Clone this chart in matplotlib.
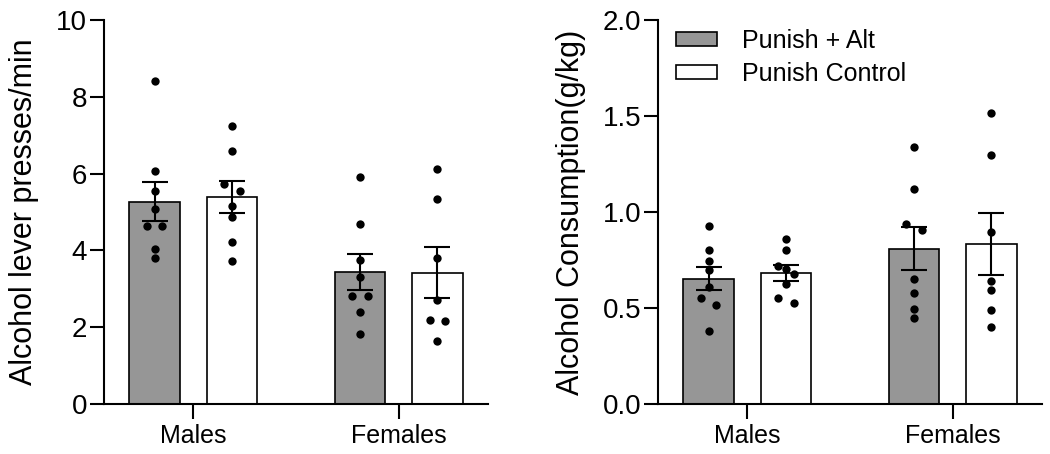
import numpy as np
import matplotlib
matplotlib.use("Agg")
import matplotlib.pyplot as plt

plt.rcParams['font.family'] = ['Liberation Sans', 'DejaVu Sans']

groups = ['Males', 'Females']
series = ['Punish + Alt', 'Punish Control']

# lever presses / min, individual animals
presses_alt_m = [8.40, 6.06, 5.55, 5.08, 4.63, 4.63, 4.04, 3.79]
presses_ctl_m = [7.24, 6.60, 5.73, 5.55, 5.15, 4.87, 4.21, 3.73]
presses_alt_f = [5.90, 4.68, 3.74, 3.32, 2.80, 2.80, 2.39, 1.82]
presses_ctl_f = [6.13, 5.33, 3.79, 2.71, 2.20, 2.16, 1.65]

# consumption g/kg, individual animals
cons_alt_m = [0.929, 0.800, 0.743, 0.698, 0.610, 0.551, 0.515, 0.382]
cons_ctl_m = [0.860, 0.800, 0.717, 0.703, 0.677, 0.627, 0.553, 0.528]
cons_alt_f = [1.338, 1.119, 0.936, 0.905, 0.653, 0.577, 0.494, 0.446]
cons_ctl_f = [1.517, 1.299, 0.895, 0.642, 0.594, 0.489, 0.401]

bar_colors = ['#969696', 'white']
bar_w = 0.244
bar_off = 0.188
dot_dx = 0.0375


def swarm(vals, thresh):
    # put points that sit close together side by side
    vals = sorted(vals, reverse=True)
    rows = []
    for v in vals:
        if rows and rows[-1][0] - v < thresh:
            rows[-1].append(v)
        else:
            rows.append([v])
    xs, ys = [], []
    for r in rows:
        offs = [0.0] if len(r) == 1 else np.linspace(-dot_dx, dot_dx, len(r))
        xs += list(offs)
        ys += r
    return np.array(xs), np.array(ys)


def panel(ax, data, ymax, yticks, ylabel, fmt):
    ax.set_xlim(-0.434, 1.434)
    ax.set_ylim(0, ymax)
    h_px = ax.get_position().height * ax.figure.get_figheight() * ax.figure.dpi
    thresh = 8.5 * ymax / h_px
    for gi, g in enumerate(groups):
        for si in range(2):
            vals = np.array(data[gi][si])
            x = gi + (2 * si - 1) * bar_off
            m = vals.mean()
            sem = vals.std(ddof=1) / np.sqrt(len(vals))
            ax.bar(x, m, bar_w, color=bar_colors[si], edgecolor='black',
                   linewidth=1.2, zorder=1, label=series[si] if gi == 0 else None)
            ax.errorbar(x, m, yerr=sem, color='black', lw=1.5, capsize=9.5,
                        capthick=1.5, zorder=2)
            dx, dy = swarm(vals, thresh)
            ax.scatter(x + dx, dy, s=36, color='black', zorder=3, linewidths=0)
    ax.set_xticks([0, 1])
    ax.set_xticklabels(groups, fontsize=18)
    ax.set_yticks(yticks)
    ax.set_yticklabels([fmt.format(t) for t in yticks], fontsize=20)
    ax.set_ylabel(ylabel, fontsize=22)
    for s in ['top', 'right']:
        ax.spines[s].set_visible(False)
    for s in ['left', 'bottom']:
        ax.spines[s].set_linewidth(1.5)
    ax.tick_params(axis='y', length=10, width=1.5, pad=2)
    ax.tick_params(axis='x', length=10.5, width=1.5, pad=4)


fig = plt.figure(figsize=(10.5, 4.54), dpi=100)
ax1 = fig.add_axes([104 / 1050, 1 - 404 / 454, 384 / 1050, 384 / 454])
ax2 = fig.add_axes([658 / 1050, 1 - 404 / 454, 384 / 1050, 384 / 454])

panel(ax1, [[presses_alt_m, presses_ctl_m], [presses_alt_f, presses_ctl_f]],
      10, [0, 2, 4, 6, 8, 10], 'Alcohol lever presses/min', '{:g}')
panel(ax2, [[cons_alt_m, cons_ctl_m], [cons_alt_f, cons_ctl_f]],
      2.0, [0.0, 0.5, 1.0, 1.5, 2.0], 'Alcohol Consumption(g/kg)', '{:.1f}')
ax1.yaxis.set_label_coords(-0.168, 0.5)
ax2.yaxis.set_label_coords(-0.187, 0.5)

ax2.legend(loc='upper left', bbox_to_anchor=(676 / 1050, 1 - 29 / 454),
           bbox_transform=fig.transFigure, frameon=False, fontsize=18,
           handlelength=1.64, handleheight=0.5, handletextpad=1.0,
           labelspacing=0.35, borderpad=0, borderaxespad=0)

fig.savefig('out.png', dpi=100)
